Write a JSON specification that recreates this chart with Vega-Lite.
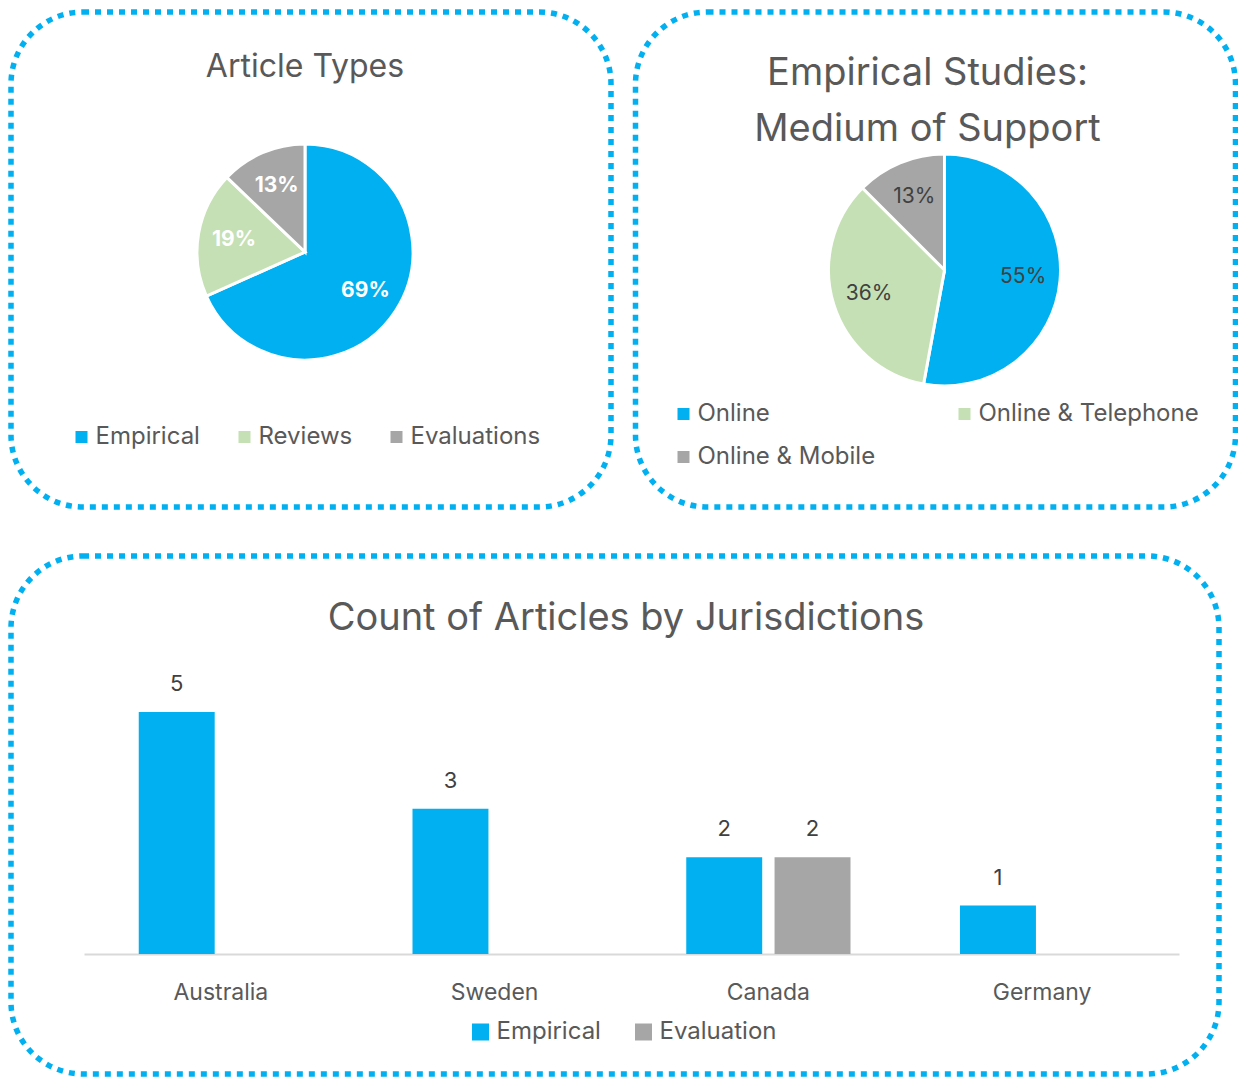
{
  "$schema": "https://vega.github.io/schema/vega-lite/v6.json",
  "padding": {"left": 8, "top": 9, "right": 0, "bottom": 0},
  "background": "white",
  "spacing": 43,
  "config": {
    "font": "Inter",
    "view": {"stroke": "#00B0F0", "strokeWidth": 5.5, "strokeDash": [6, 6], "cornerRadius": 72},
    "title": {"color": "#595959", "fontWeight": "normal", "font": "Inter", "anchor": "middle", "baseline": "bottom"},
    "legend": {"labelColor": "#595959", "labelFontSize": 24, "labelFont": "Inter", "labelLimit": 400, "symbolType": "square", "symbolStrokeWidth": 0, "padding": 0, "title": null}
  },
  "datasets": {
    "types": [
      {"k": 1, "type": "Empirical", "pct": 69, "label": "69%"},
      {"k": 2, "type": "Reviews", "pct": 19, "label": "19%"},
      {"k": 3, "type": "Evaluations", "pct": 13, "label": "13%"}
    ],
    "medium": [
      {"k": 1, "medium": "Online", "pct": 55, "label": "55%"},
      {"k": 2, "medium": "Online & Telephone", "pct": 36, "label": "36%"},
      {"k": 3, "medium": "Online & Mobile", "pct": 13, "label": "13%"}
    ],
    "counts": [
      {"country": "Australia", "kind": "Empirical", "n": 5},
      {"country": "Sweden", "kind": "Empirical", "n": 3},
      {"country": "Canada", "kind": "Empirical", "n": 2},
      {"country": "Canada", "kind": "Evaluation", "n": 2},
      {"country": "Germany", "kind": "Empirical", "n": 1}
    ]
  },
  "resolve": {"scale": {"color": "independent"}, "legend": {"color": "independent"}},
  "vconcat": [
    {
      "spacing": 18.5,
      "resolve": {"scale": {"color": "independent"}, "legend": {"color": "independent"}},
      "hconcat": [
        {
          "width": 600,
          "height": 495,
          "view": {"stroke": "#00B0F0", "strokeWidth": 5.5, "strokeDash": [6, 6], "cornerRadius": 72},
          "data": {"name": "types"},
          "title": {"text": "Article Types", "fontSize": 32, "offset": -72, "dx": -6},
          "encoding": {
            "theta": {"field": "pct", "type": "quantitative", "stack": true},
            "order": {"field": "k", "type": "quantitative"},
            "color": {
              "field": "type",
              "type": "nominal",
              "sort": ["Empirical", "Reviews", "Evaluations"],
              "scale": {"domain": ["Empirical", "Reviews", "Evaluations"], "range": ["#00B0F0", "#C5E0B4", "#A6A6A6"]},
              "legend": {"orient": "none", "legendX": 58.5, "legendY": 413, "direction": "horizontal", "columns": 3, "columnPadding": 32, "symbolSize": 144, "labelOffset": 2}
            }
          },
          "layer": [
            {"mark": {"type": "arc", "outerRadius": 108, "stroke": "white", "strokeWidth": 3, "xOffset": -6, "yOffset": -7.5}},
            {
              "mark": {"type": "text", "radius": 72, "fontSize": 21, "fontWeight": "bold", "font": "Inter", "xOffset": -6, "yOffset": -7.5},
              "encoding": {"text": {"field": "label"}, "color": {"value": "white"}}
            }
          ]
        },
        {
          "width": 600,
          "height": 495,
          "view": {"stroke": "#00B0F0", "strokeWidth": 5.5, "strokeDash": [6, 6], "cornerRadius": 72},
          "data": {"name": "medium"},
          "title": {"text": ["Empirical Studies:", "Medium of Support"], "fontSize": 38, "lineHeight": 56, "offset": -137, "dx": -8},
          "encoding": {
            "theta": {"field": "pct", "type": "quantitative", "stack": true},
            "order": {"field": "k", "type": "quantitative"},
            "color": {
              "field": "medium",
              "type": "nominal",
              "sort": ["Online", "Online & Telephone", "Online & Mobile"],
              "scale": {"domain": ["Online", "Online & Telephone", "Online & Mobile"], "range": ["#00B0F0", "#C5E0B4", "#A6A6A6"]},
              "legend": {"orient": "none", "legendX": 36, "legendY": 390, "direction": "horizontal", "columns": 2, "columnPadding": 77, "rowPadding": 19, "symbolSize": 144, "labelOffset": 2}
            }
          },
          "layer": [
            {"mark": {"type": "arc", "outerRadius": 116, "stroke": "white", "strokeWidth": 3, "xOffset": 9, "yOffset": 10.5}},
            {
              "mark": {"type": "text", "radius": 79, "fontSize": 21, "font": "Inter", "xOffset": 9, "yOffset": 10.5},
              "encoding": {"text": {"field": "label"}, "color": {"value": "#404040"}}
            }
          ]
        }
      ]
    },
    {
      "width": 1208,
      "height": 518,
      "data": {"name": "counts"},
      "title": {"text": "Count of Articles by Jurisdictions", "fontSize": 38, "offset": -82, "dx": 11},
      "encoding": {
        "x": {
          "field": "country",
          "type": "nominal",
          "sort": null,
          "scale": {"range": [73, 1168], "paddingInner": 0.4, "paddingOuter": 0.2},
          "axis": {"title": null, "offset": -120, "labelAngle": 0, "ticks": false, "domainColor": "#D9D9D9", "domainWidth": 2, "labelFontSize": 23, "labelColor": "#595959", "labelPadding": 27, "labelFont": "Inter"}
        },
        "xOffset": {
          "field": "kind",
          "type": "nominal",
          "scale": {"domain": ["Empirical", "Evaluation"], "paddingInner": 0.14, "paddingOuter": 0}
        },
        "y": {
          "field": "n",
          "type": "quantitative",
          "scale": {"domain": [0, 5], "range": [398, 156]},
          "axis": null
        },
        "color": {
          "field": "kind",
          "type": "nominal",
          "scale": {"domain": ["Empirical", "Evaluation"], "range": ["#00B0F0", "#A6A6A6"]},
          "legend": {"orient": "none", "legendX": 457.5, "legendY": 464, "direction": "horizontal", "columns": 2, "columnPadding": 30, "symbolSize": 289, "labelOffset": 4}
        }
      },
      "layer": [
        {"mark": {"type": "bar"}},
        {
          "mark": {"type": "text", "baseline": "middle", "dy": -28, "fontSize": 22, "font": "Inter"},
          "encoding": {"text": {"field": "n", "type": "quantitative"}, "color": {"value": "#404040"}}
        }
      ]
    }
  ]
}
